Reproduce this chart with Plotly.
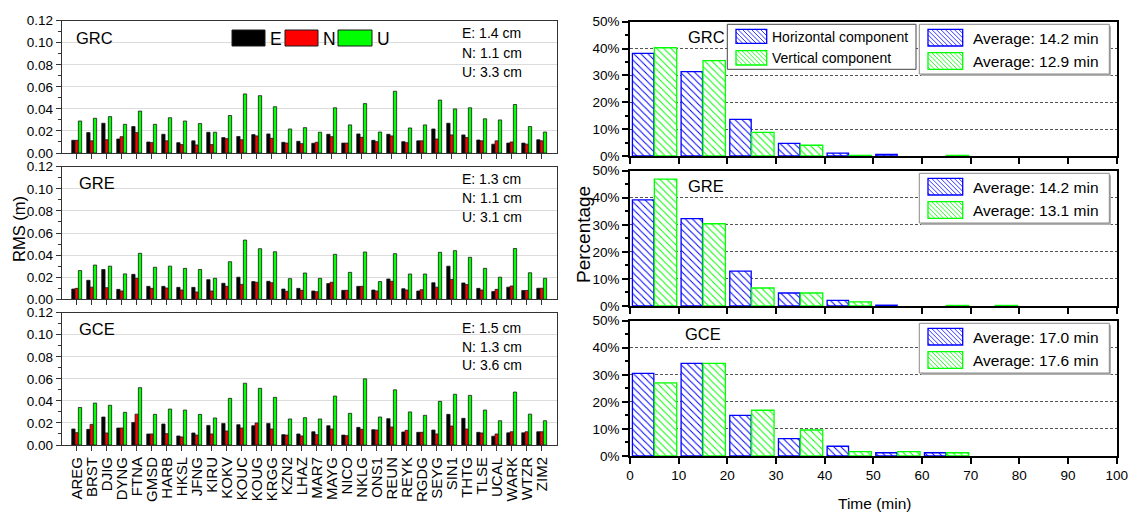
import plotly.graph_objects as go

W, H = 1131, 516
FONT = "Arial, 'Liberation Sans', sans-serif"

# ---------------- data ----------------
stations = ["AREG", "BRST", "DJIG", "DYNG", "FTNA", "GMSD", "HARB", "HKSL", "JFNG", "KIRU",
            "KOKV", "KOUC", "KOUG", "KRGG", "KZN2", "LHAZ", "MAR7", "MAYG", "NICO", "NKLG",
            "ONS1", "REUN", "REYK", "RGDG", "SEYG", "SIN1", "THTG", "TLSE", "UCAL", "WARK",
            "WTZR", "ZIM2"]

grc_e = [0.0115, 0.0185, 0.027, 0.0127, 0.024, 0.010, 0.017, 0.0094, 0.011, 0.0188, 0.014, 0.015,
         0.0167, 0.0173, 0.0097, 0.0106, 0.0088, 0.017, 0.009, 0.0173, 0.0115, 0.017, 0.0103, 0.011,
         0.0218, 0.027, 0.0164, 0.0118, 0.008, 0.009, 0.009, 0.012]
grc_n = [0.0115, 0.011, 0.012, 0.0148, 0.0185, 0.0094, 0.011, 0.0076, 0.0073, 0.0076, 0.013, 0.012,
         0.0155, 0.0133, 0.009, 0.0085, 0.0097, 0.0148, 0.009, 0.0142, 0.0103, 0.0155, 0.0094, 0.011,
         0.0127, 0.0164, 0.014, 0.011, 0.011, 0.010, 0.008, 0.011]
grc_u = [0.029, 0.0315, 0.033, 0.026, 0.038, 0.026, 0.032, 0.029, 0.0267, 0.0188, 0.034, 0.0536,
         0.052, 0.042, 0.0218, 0.023, 0.0188, 0.041, 0.0255, 0.0448, 0.019, 0.056, 0.0227, 0.0255,
         0.048, 0.040, 0.041, 0.031, 0.030, 0.044, 0.024, 0.019]

gre_e = [0.0093, 0.0172, 0.027, 0.009, 0.0226, 0.0117, 0.0117, 0.0108, 0.0108, 0.0178, 0.0145, 0.020,
         0.016, 0.0163, 0.0093, 0.0099, 0.0075, 0.0142, 0.0081, 0.0117, 0.0084, 0.0184, 0.0096, 0.0075,
         0.015, 0.030, 0.0148, 0.0099, 0.007, 0.011, 0.008, 0.010]
gre_n = [0.0099, 0.011, 0.0105, 0.0075, 0.019, 0.0099, 0.0102, 0.0084, 0.0066, 0.0075, 0.0117, 0.0135,
         0.0154, 0.015, 0.0072, 0.0081, 0.0069, 0.0154, 0.0081, 0.0117, 0.0075, 0.0163, 0.0084, 0.0087,
         0.011, 0.018, 0.0133, 0.0084, 0.009, 0.012, 0.008, 0.010]
gre_u = [0.026, 0.031, 0.030, 0.023, 0.0416, 0.029, 0.030, 0.028, 0.027, 0.019, 0.034, 0.0536,
         0.0458, 0.043, 0.0187, 0.0238, 0.019, 0.0407, 0.0244, 0.0428, 0.016, 0.0413, 0.0229, 0.0229,
         0.0425, 0.044, 0.038, 0.028, 0.020, 0.046, 0.024, 0.019]

gce_e = [0.0145, 0.0142, 0.0254, 0.0154, 0.0205, 0.010, 0.019, 0.0082, 0.0109, 0.0178, 0.0196, 0.0184,
         0.0175, 0.0196, 0.0094, 0.010, 0.012, 0.0175, 0.009, 0.016, 0.0139, 0.0239, 0.0118, 0.0115,
         0.0136, 0.0278, 0.0242, 0.0115, 0.008, 0.011, 0.011, 0.012]
gce_n = [0.0112, 0.0187, 0.0109, 0.0154, 0.028, 0.010, 0.0103, 0.0073, 0.009, 0.010, 0.0127, 0.0154,
         0.020, 0.0145, 0.009, 0.0082, 0.0094, 0.0145, 0.0085, 0.0142, 0.0136, 0.0163, 0.0133, 0.0115,
         0.010, 0.0172, 0.0145, 0.0109, 0.010, 0.012, 0.012, 0.012]
gce_u = [0.034, 0.038, 0.036, 0.0296, 0.052, 0.0278, 0.0326, 0.0317, 0.0278, 0.0245, 0.0423, 0.056,
         0.0514, 0.0432, 0.0236, 0.0248, 0.0236, 0.0444, 0.0287, 0.060, 0.0254, 0.050, 0.030, 0.0269,
         0.0396, 0.046, 0.045, 0.0317, 0.022, 0.048, 0.028, 0.022]

rms_labels = ["GRC", "GRE", "GCE"]
rms_stats = [["E: 1.4 cm", "N: 1.1 cm", "U: 3.3 cm"],
             ["E: 1.3 cm", "N: 1.1 cm", "U: 3.1 cm"],
             ["E: 1.5 cm", "N: 1.3 cm", "U: 3.6 cm"]]

# convergence time histograms (bin start, min) -> percentage
bins = [0, 10, 20, 30, 40, 50, 60, 70, 80, 90]
grc_hor = [38.2, 31.4, 13.6, 4.7, 1.1, 0.6, None, None, None, None]
grc_ver = [40.3, 35.5, 8.8, 4.0, 0.25, None, 0.25, None, None, None]
gre_hor = [39.2, 32.3, 12.9, 4.8, 2.1, 0.3, None, None, None, None]
gre_ver = [46.9, 30.4, 6.65, 4.8, 1.5, None, 0.2, 0.2, None, None]
gce_hor = [30.5, 34.2, 15.0, 6.4, 3.6, 1.2, 1.2, None, None, None]
gce_ver = [27.0, 34.2, 16.9, 9.6, 1.6, 1.6, 1.2, None, None, None]
avg_hor = ["Average: 14.2 min", "Average: 14.2 min", "Average: 17.0 min"]
avg_ver = ["Average: 12.9 min", "Average: 13.1 min", "Average: 17.6 min"]

# ---------------- geometry (pixels) ----------------
def fx(px):
    return px / W


def fy(py):
    return 1 - py / H


L_X = (61.7, 556.7)
L_Y = [(20.7, 153.0), (166.7, 299.3), (312.7, 445.0)]
R_X = (630.0, 1116.7)
R_Y = [(21.7, 156.0), (170.7, 306.0), (320.7, 456.0)]

BLUE = "#0000ff"
GREEN = "#00ff00"

fig = go.Figure()
layout = dict(
    width=W, height=H, margin=dict(l=0, r=0, t=0, b=0),
    paper_bgcolor="white", plot_bgcolor="white", template="none",
    font=dict(family=FONT, color="black", size=13),
    showlegend=False, barmode="group", bargap=0.34, bargroupgap=0.0,
)

rms = [(grc_e, grc_n, grc_u), (gre_e, gre_n, gre_u), (gce_e, gce_n, gce_u)]
conv = [(grc_hor, grc_ver), (gre_hor, gre_ver), (gce_hor, gce_ver)]

for i in range(3):
    ax = i + 1
    xs = "" if ax == 1 else str(ax)
    for vals, col in zip(rms[i], ["black", "#ff0000", GREEN]):
        fig.add_trace(go.Bar(x=stations, y=vals, xaxis="x" + xs, yaxis="y" + xs,
                             marker=dict(color=col, line=dict(color="#1a1a1a", width=0.8))))
    y0, y1 = L_Y[i]
    layout["xaxis" + xs] = dict(
        domain=[fx(L_X[0]), fx(L_X[1])], anchor="y" + xs, type="category",
        categoryorder="array", categoryarray=stations, range=[-1, 32],
        tickmode="linear", tick0=0, dtick=1,
        showline=True, linecolor="#333", linewidth=1, mirror=True,
        ticks="outside", ticklen=5, tickcolor="#333", showgrid=False, zeroline=False,
        showticklabels=(i == 2), tickangle=-90, tickfont=dict(size=15),
    )
    layout["yaxis" + xs] = dict(
        domain=[fy(y1), fy(y0)], anchor="x" + xs, range=[0, 0.12], dtick=0.02,
        tickformat=".2f", ticks="outside", ticklen=5, tickcolor="#333",
        minor=dict(ticks="outside", ticklen=3, dtick=0.01, tickcolor="#333"),
        showline=True, linecolor="#333", linewidth=1, mirror=True,
        showgrid=True, gridcolor="#dcdcdc", gridwidth=1, zeroline=False,
        tickfont=dict(size=13.5),
    )

for i in range(3):
    ax = i + 4
    xs = str(ax)
    hor, ver = conv[i]
    fig.add_trace(go.Bar(x=bins, y=hor, xaxis="x" + xs, yaxis="y" + xs, offset=0.5, width=4.4,
                         marker=dict(color="white", line=dict(color=BLUE, width=1.3),
                                     pattern=dict(shape="\\", fgcolor=BLUE, bgcolor="white",
                                                  size=5, solidity=0.2))))
    fig.add_trace(go.Bar(x=bins, y=ver, xaxis="x" + xs, yaxis="y" + xs, offset=5.0, width=4.6,
                         marker=dict(color="white", line=dict(color=GREEN, width=1.3),
                                     pattern=dict(shape="\\", fgcolor=GREEN, bgcolor="white",
                                                  size=5, solidity=0.2))))
    y0, y1 = R_Y[i]
    layout["xaxis" + xs] = dict(
        domain=[fx(R_X[0]), fx(R_X[1])], anchor="y" + xs, range=[0, 100], dtick=10,
        showline=True, linecolor="black", linewidth=1.5, mirror=True,
        ticks="outside", ticklen=6, tickcolor="black", tickwidth=1.5, showgrid=False, zeroline=False,
        showticklabels=(i == 2), tickfont=dict(size=13.5),
    )
    layout["yaxis" + xs] = dict(
        domain=[fy(y1), fy(y0)], anchor="x" + xs, range=[0, 50], dtick=10, ticksuffix="%",
        ticks="outside", ticklen=6, tickcolor="black", tickwidth=1.5,
        minor=dict(ticks="outside", ticklen=3, dtick=5, tickcolor="black"),
        showline=True, linecolor="black", linewidth=1.5, mirror=True,
        showgrid=True, gridcolor="#555", gridwidth=1, griddash="3px,2px", zeroline=False,
        tickfont=dict(size=13.5),
    )

# mirrored inside ticks (top / right) via overlay axes
for i in range(6):
    ax = i + 1
    xs = "" if ax == 1 else str(ax)
    ox = str(ax + 6)
    if i < 3:
        layout["xaxis" + ox] = dict(overlaying="x" + xs, anchor="y" + xs, side="top",
                                    range=[-1, 32], tickmode="array", tickvals=list(range(32)),
                                    ticks="inside", ticklen=5, tickcolor="#333",
                                    showticklabels=False, showgrid=False, zeroline=False, showline=False)
        layout["yaxis" + ox] = dict(overlaying="y" + xs, anchor="x" + xs, side="right",
                                    range=[0, 0.12], dtick=0.02, ticks="inside", ticklen=5,
                                    tickcolor="#333",
                                    minor=dict(ticks="inside", ticklen=3, dtick=0.01, tickcolor="#333"),
                                    showticklabels=False, showgrid=False, zeroline=False, showline=False)
    else:
        layout["xaxis" + ox] = dict(overlaying="x" + xs, anchor="y" + xs, side="top",
                                    range=[0, 100], dtick=10, ticks="inside", ticklen=6,
                                    tickwidth=1.5, tickcolor="black",
                                    showticklabels=False, showgrid=False, zeroline=False, showline=False)
        layout["yaxis" + ox] = dict(overlaying="y" + xs, anchor="x" + xs, side="right",
                                    range=[0, 50], dtick=10, ticks="inside", ticklen=6,
                                    tickwidth=1.5, tickcolor="black",
                                    minor=dict(ticks="inside", ticklen=3, dtick=5, tickcolor="black"),
                                    showticklabels=False, showgrid=False, zeroline=False, showline=False)

annotations = []
shapes = []


def text(x, y, s, size, anchor="left", angle=0):
    annotations.append(dict(x=fx(x), y=fy(y), xref="paper", yref="paper", text=s, showarrow=False,
                            xanchor=anchor, yanchor="middle", textangle=angle,
                            font=dict(family=FONT, size=size, color="black")))


def rect(x0, y0, x1, y1, fill, line, lw=1):
    shapes.append(dict(type="rect", xref="paper", yref="paper", x0=fx(x0), x1=fx(x1),
                       y0=fy(y1), y1=fy(y0), fillcolor=fill, line=dict(color=line, width=lw)))


def hatch(x0, y0, x1, y1, color, step=4.5):
    h = y1 - y0
    parts = []
    c = x0 - h + step / 2
    while c < x1:
        if c >= x0:
            sx, sy = c, y0
        else:
            sx, sy = x0, y0 + (x0 - c)
        if c + h <= x1:
            ex, ey = c + h, y1
        else:
            ex, ey = x1, y0 + (x1 - c)
        parts.append(f"M{fx(sx):.5f},{fy(sy):.5f} L{fx(ex):.5f},{fy(ey):.5f}")
        c += step
    shapes.append(dict(type="path", xref="paper", yref="paper", path=" ".join(parts),
                       line=dict(color=color, width=0.8)))
    rect(x0, y0, x1, y1, "rgba(0,0,0,0)", color, 1.3)


# left panel labels
left_label_pos = [(74, 38), (77, 183), (77, 329)]
stat_y = [(33, 53, 72), (179, 198, 217), (328, 347, 365)]
for i in range(3):
    text(left_label_pos[i][0], left_label_pos[i][1], rms_labels[i], 16.5)
    for s, yy in zip(rms_stats[i], stat_y[i]):
        text(460, yy, s, 14)

# E / N / U legend
for (x0, x1, col, lab) in [(232, 265, "black", "E"), (285, 318, "#ff0000", "N"), (338, 372, GREEN, "U")]:
    rect(x0, 30, x1, 46, col, "#1a1a1a", 1)
    text(x1 + 3, 38.5, lab, 17.5)

# right panel labels and legends
right_label_pos = [(686, 37), (686, 186), (683, 334)]
for i in range(3):
    T = R_Y[i][0]
    text(right_label_pos[i][0], right_label_pos[i][1], rms_labels[i], 16.5)
    # average legend box
    rect(921, T + 4.6, 1111, T + 54.3, "#b0b0b0", "#b0b0b0", 0)
    rect(919.3, T + 2.6, 1109.3, T + 52.3, "white", "#8a8a8a", 1)
    hatch(928, T + 7.6, 962.7, T + 24.3, BLUE)
    hatch(928, T + 31, 962.7, T + 47.6, GREEN)
    text(971, T + 16.6, avg_hor[i], 15.5)
    text(971, T + 40, avg_ver[i], 15.5)

T = R_Y[0][0]
rect(727.3, T + 2.6, 916, T + 47.6, "white", "#444", 1)
hatch(736, T + 7.6, 766.7, T + 21.6, BLUE)
hatch(736, T + 29, 766.7, T + 43.3, GREEN)
text(770, T + 15, "Horizontal component", 14)
text(770, T + 36.6, "Vertical component", 14)

# axis titles
text(19, 229, "RMS (m)", 16.5, anchor="center", angle=-90)
text(584, 235, "Percentage", 19, anchor="center", angle=-90)
text(874, 503, "Time (min)", 15.5, anchor="center")

layout["annotations"] = annotations
layout["shapes"] = shapes
fig.update_layout(**layout)
fig.write_html("out.html")
